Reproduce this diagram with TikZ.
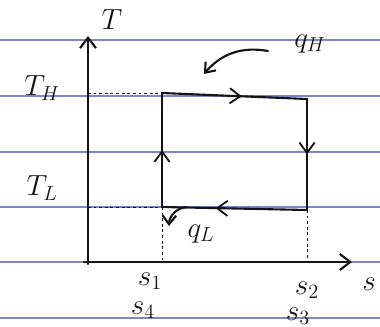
\documentclass[tikz,border=0pt]{standalone}
\usepackage{amsmath}
\usepackage{tikz}
\usetikzlibrary{arrows.meta,positioning,calc,decorations.markings}
\definecolor{RuleBlue}{RGB}{100,100,185}
\definecolor{InkBlack}{RGB}{20,20,20}

\tikzset{
  ink/.style={InkBlack, line width=1.5pt, line cap=round, line join=round},
  guide/.style={InkBlack, dashed, line width=0.6pt, dash pattern=on 2pt off 2pt},
  paperline/.style={RuleBlue, line width=0.9pt, opacity=0.8},
  midarrow/.style={postaction={decorate, decoration={markings,
      mark=at position #1 with {\arrow{Straight Barb[length=2.6mm,width=3.8mm,line width=1.3pt]}}}}},
  lbl/.style={InkBlack, font=\huge},
}

\begin{document}
\begin{tikzpicture}[x=0.25mm, y=-0.25mm]
        \useasboundingbox (0,0) rectangle (380,327);
        % ruled paper
        \foreach \yy in {40,96,152,207,262,318} \draw[paperline] (0,\yy) -- (380,\yy);
        % axes
        \coordinate (O) at (88,262);
        \coordinate (Ttop) at (88,36);
        \coordinate (Send) at (352,262);
        \draw[ink, -{Straight Barb[length=2.6mm,width=4mm]}] (88,264) -- (Ttop);
        \draw[ink, -{Straight Barb[length=2.6mm,width=4mm]}] (84,262) -- (Send);
        \node[lbl] (Tlab) at (112,20) {$T$};
        \node[lbl] (slab) at (369,284) {$s$};
        % cycle corners
        \coordinate (p1) at (162,93);
        \coordinate (p2) at (307,99);
        \coordinate (p3) at (307,210);
        \coordinate (p4) at (162,207);
        % guide lines
        \draw[guide] (O |- p1) -- (p1);
        \draw[guide] (O |- p4) -- (p4);
        \draw[guide] (p4) -- (p4 |- O);
        \draw[guide] (p3) -- (p3 |- O);
        % cycle
        \draw[ink, midarrow=0.55] (p1) -- (p2);
        \draw[ink, midarrow=0.5] (p2) -- (p3);
        \draw[ink, midarrow=0.63] (p3) -- (p4);
        \draw[ink, midarrow=0.5] (p4) -- (p1);
        % labels
        \node[lbl] (TH) at (42,88) {$T_H$};
        \node[lbl] (TL) at (42,188) {$T_L$};
        \node[lbl] (s1) at (150,281) {$s_1$};
        \node[lbl] (s4) at (143,310) {$s_4$};
        \node[lbl] (s2) at (307,290) {$s_2$};
        \node[lbl] (s3) at (298,316) {$s_3$};
        \node[lbl] (qH) at (310,44) {$q_H$};
        \node[lbl] (qL) at (201,234) {$q_L$};
        % heat arrows
        \coordinate (qHs) at (268,51);
        \coordinate (qHe) at (204,74);
        \coordinate (qLs) at (186,207);
        \coordinate (qLe) at (169,226);
        \draw[ink, -{Straight Barb[length=2.2mm,width=3.4mm]}] (qHs) to[bend right=30] (qHe);
        \draw[ink, -{Straight Barb[length=2.2mm,width=3.4mm]}] (qLs) to[bend right=40] (qLe);
      \end{tikzpicture}
\end{document}
